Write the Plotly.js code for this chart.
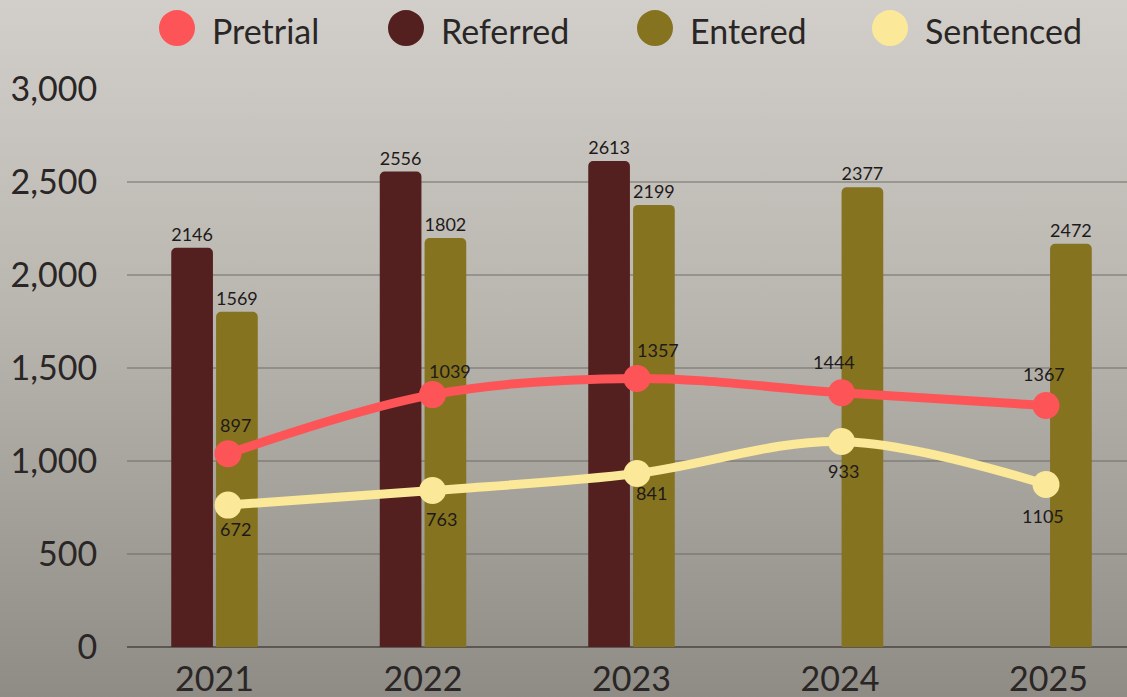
<!DOCTYPE html>
<html>
<head>
<meta charset="utf-8">
<script src="https://cdn.plot.ly/plotly-3.0.1.min.js"></script>
<style>
  html, body { margin: 0; padding: 0; }
  body { width: 1127px; height: 697px; background: linear-gradient(to bottom, #d2cfca 0%, #b9b6b0 45%, #8f8b85 100%); overflow: hidden; }
  #chart { width: 1127px; height: 697px; }
</style>
</head>
<body>
<div id="chart"></div>
<script>
// ---- data ----
const years = ['2021', '2022', '2023', '2024', '2025'];

const seriesNames = ['Pretrial', 'Referred', 'Entered', 'Sentenced'];
const seriesColors = ['#fd5557', '#53201f', '#85731f', '#fbe898'];

// bar heights as drawn
const referredValues = [2146, 2556, 2613, null, null];
const enteredValues = [1802, 2199, 2377, 2472, 2168];
// printed labels
const referredLabels = ['2146', '2556', '2613', '', ''];
const enteredLabels = ['1569', '1802', '2199', '2377', '2472'];

// line points as drawn
const pretrialValues = [1039, 1357, 1444, 1367, 1298];
const sentencedValues = [763, 841, 933, 1105, 874];
// printed labels
const pretrialLabels = ['897', '1039', '1357', '1444', '1367'];
const sentencedLabels = ['672', '763', '841', '933', '1105'];

const yTickValues = [0, 500, 1000, 1500, 2000, 2500, 3000];

// ---- layout / style constants ----
const W = 1127, H = 697;
const M = { l: 127, r: 0, t: 89, b: 49.5 };
const plotW = W - M.l - M.r, plotH = H - M.t - M.b;
const FONT = 'Lato, "Open Sans", sans-serif';
const TXT = '#2a2626';
const LABEL = '#1e1a1a';

const legendCentersPx = [177, 406, 655, 890];
const legendCyPx = 28;
const legendR = 18;

// label offsets from their points (pixels: right, up)
const pretrialLabelShiftX = [7, 17, 21, -8, -2];
const pretrialLabelShiftY = [29, 24, 28, 31, 32];
const sentencedLabelShiftX = [7, 9, 14, 2, -3];
const sentencedLabelShiftY = [-24, -28, -20, -30, -32];

const traces = [
  {
    type: 'bar', name: seriesNames[1], x: years, y: referredValues,
    text: referredLabels, textposition: 'outside', constraintext: 'none', cliponaxis: false,
    textfont: { family: FONT, size: 18, color: LABEL },
    marker: { color: seriesColors[1] }, showlegend: false
  },
  {
    type: 'bar', name: seriesNames[2], x: years, y: enteredValues,
    text: enteredLabels, textposition: 'outside', constraintext: 'none', cliponaxis: false,
    textfont: { family: FONT, size: 18, color: LABEL },
    marker: { color: seriesColors[2] }, showlegend: false
  },
  {
    type: 'scatter', mode: 'lines+markers', name: seriesNames[0], x: years, y: pretrialValues,
    xaxis: 'x2', cliponaxis: false,
    line: { color: seriesColors[0], width: 9, shape: 'spline', smoothing: 1 },
    marker: { color: seriesColors[0], size: 27 }, showlegend: false
  },
  {
    type: 'scatter', mode: 'lines+markers', name: seriesNames[3], x: years, y: sentencedValues,
    xaxis: 'x2', cliponaxis: false,
    line: { color: seriesColors[3], width: 9, shape: 'spline', smoothing: 1 },
    marker: { color: seriesColors[3], size: 27 }, showlegend: false
  }
];

const shapes = [], annotations = [];

// custom legend (large round swatches)
seriesNames.forEach((name, i) => {
  const cx = (legendCentersPx[i] - M.l) / plotW;
  const cy = (H - M.b - legendCyPx) / plotH;
  shapes.push({
    type: 'circle', xref: 'paper', yref: 'paper', xsizemode: 'pixel', ysizemode: 'pixel',
    xanchor: cx, yanchor: cy, x0: -legendR, x1: legendR, y0: -legendR, y1: legendR,
    fillcolor: seriesColors[i], line: { width: 0 }
  });
  annotations.push({
    xref: 'paper', yref: 'paper', x: (legendCentersPx[i] + 33 - M.l) / plotW,
    y: (H - M.b - (legendCyPx + 2)) / plotH, xanchor: 'left', yanchor: 'middle',
    text: name, showarrow: false, font: { family: FONT, size: 34, color: TXT }
  });
});

// line value labels (x given as category index on the line axis)
function addLineLabels(values, labels, sx, sy) {
  years.forEach((yr, i) => {
    annotations.push({
      xref: 'x2', yref: 'y', x: i, y: values[i], text: labels[i], showarrow: false,
      xanchor: 'center', yanchor: 'middle', xshift: sx[i], yshift: sy[i],
      font: { family: FONT, size: 18, color: LABEL }
    });
  });
}
addLineLabels(pretrialValues, pretrialLabels, pretrialLabelShiftX, pretrialLabelShiftY);
addLineLabels(sentencedValues, sentencedLabels, sentencedLabelShiftX, sentencedLabelShiftY);

const layout = {
  width: W, height: H,
  margin: M,
  paper_bgcolor: 'rgba(0,0,0,0)', plot_bgcolor: 'rgba(0,0,0,0)',
  showlegend: false,
  barmode: 'group', bargap: 0.57, bargroupgap: 0.07, barcornerradius: 5,
  font: { family: FONT, color: TXT },
  xaxis: {
    type: 'category', range: [-0.4197, 4.3765], showgrid: false, zeroline: false, showline: false,
    ticks: 'outside', ticklen: 2, tickcolor: 'rgba(0,0,0,0)',
    tickfont: { family: FONT, size: 34, color: TXT }, fixedrange: true
  },
  xaxis2: {
    type: 'category', overlaying: 'x', range: [-0.4939, 4.3961], visible: false, fixedrange: true
  },
  yaxis: {
    range: [0, 3000], tickvals: yTickValues, tickformat: ',d',
    showgrid: true, gridcolor: 'rgba(105,100,95,0.45)', gridwidth: 1.5,
    zeroline: true, zerolinecolor: '#5c5751', zerolinewidth: 2, showline: false,
    ticks: 'outside', ticklen: 22, tickcolor: 'rgba(0,0,0,0)',
    tickfont: { family: FONT, size: 34, color: TXT }, fixedrange: true
  },
  shapes: shapes,
  annotations: annotations
};

Plotly.newPlot('chart', traces, layout, { displayModeBar: false, staticPlot: true });
</script>
</body>
</html>
